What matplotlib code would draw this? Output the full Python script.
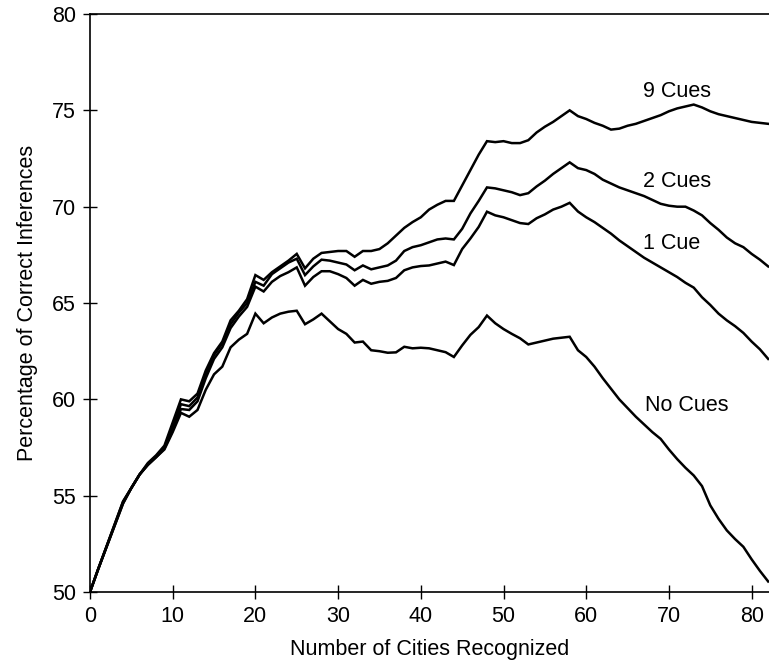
import matplotlib
matplotlib.use("Agg")
import matplotlib.pyplot as plt

plt.rcParams["font.family"] = ["Liberation Sans", "DejaVu Sans"]

# number of cities recognized (vertices)
cities = [0, 1, 4, 5, 6, 7, 8, 9, 10, 11, 12, 13, 14, 15, 16, 17, 18, 19, 20,
          21, 22, 23, 24, 25, 26, 27, 28, 29, 30, 31, 32, 33, 34, 35, 36, 37, 38, 39, 40,
          41, 42, 43, 44, 45, 46, 47, 48, 49, 50, 51, 52, 53, 54, 55, 56, 57, 58, 59, 60,
          61, 62, 63, 64, 65, 66, 67, 68, 69, 70, 71, 72, 73, 74, 75, 76, 77, 78, 79, 80,
          81, 82]

cues_9 = [50.0, 51.2, 54.7, 55.4, 56.1, 56.7, 57.1, 57.6, 58.8, 60.0, 59.9, 60.3, 61.5, 62.4, 63.0, 64.1, 64.6, 65.2, 66.45,
          66.2, 66.6, 66.9, 67.2, 67.55, 66.8, 67.3, 67.6, 67.65, 67.7, 67.7, 67.4, 67.7, 67.7, 67.8, 68.1, 68.5, 68.9, 69.2, 69.45,
          69.85, 70.1, 70.3, 70.3, 71.1, 71.9, 72.7, 73.4, 73.35, 73.4, 73.3, 73.3, 73.45, 73.85, 74.15, 74.4, 74.7, 75.0, 74.7, 74.55,
          74.35, 74.2, 74.0, 74.05, 74.2, 74.3, 74.45, 74.6, 74.75, 74.95, 75.1, 75.2, 75.3, 75.15, 74.95, 74.8, 74.7, 74.6, 74.5, 74.4,
          74.35, 74.3]

cues_2 = [50.0, 51.2, 54.7, 55.4, 56.1, 56.65, 57.05, 57.5, 58.6, 59.75, 59.65, 60.1, 61.3, 62.3, 62.9, 63.9, 64.5, 65.0, 66.1,
          65.9, 66.5, 66.8, 67.1, 67.3, 66.45, 66.9, 67.25, 67.2, 67.1, 67.0, 66.7, 66.95, 66.75, 66.85, 66.95, 67.2, 67.7, 67.9, 68.0,
          68.15, 68.3, 68.35, 68.3, 68.85, 69.65, 70.3, 71.0, 70.95, 70.85, 70.75, 70.6, 70.7, 71.05, 71.35, 71.7, 72.0, 72.3, 72.0, 71.9,
          71.7, 71.4, 71.2, 71.0, 70.85, 70.7, 70.55, 70.35, 70.15, 70.05, 70.0, 70.0, 69.8, 69.55, 69.15, 68.8, 68.4, 68.1, 67.9, 67.55,
          67.25, 66.9]

cue_1 = [50.0, 51.2, 54.6, 55.4, 56.1, 56.6, 57.0, 57.45, 58.4, 59.5, 59.45, 59.9, 61.1, 62.1, 62.7, 63.7, 64.3, 64.8, 65.85,
         65.6, 66.1, 66.4, 66.6, 66.85, 65.9, 66.35, 66.65, 66.65, 66.5, 66.3, 65.9, 66.2, 66.0, 66.1, 66.15, 66.3, 66.7, 66.85, 66.92,
         66.95, 67.05, 67.15, 66.97, 67.8, 68.35, 68.95, 69.74, 69.55, 69.45, 69.3, 69.15, 69.1, 69.4, 69.6, 69.85, 70.0, 70.2, 69.75, 69.45,
         69.2, 68.9, 68.6, 68.25, 67.95, 67.65, 67.35, 67.1, 66.85, 66.6, 66.35, 66.05, 65.8, 65.3, 64.9, 64.45, 64.1, 63.8, 63.45, 63.0,
         62.6, 62.1]

no_cues = [50.0, 51.2, 54.6, 55.4, 56.1, 56.6, 57.0, 57.4, 58.3, 59.3, 59.1, 59.45, 60.5, 61.3, 61.7, 62.7, 63.1, 63.4, 64.45,
           63.95, 64.25, 64.45, 64.55, 64.6, 63.9, 64.15, 64.45, 64.05, 63.65, 63.4, 62.95, 63.0, 62.55, 62.5, 62.42, 62.44, 62.73, 62.65, 62.68,
           62.65, 62.55, 62.45, 62.2, 62.8, 63.35, 63.75, 64.35, 63.95, 63.65, 63.4, 63.17, 62.85, 62.95, 63.05, 63.15, 63.2, 63.25, 62.55, 62.2,
           61.7, 61.1, 60.55, 60.0, 59.55, 59.1, 58.7, 58.3, 57.95, 57.4, 56.9, 56.45, 56.05, 55.5, 54.5, 53.8, 53.2, 52.75, 52.35, 51.7,
           51.1, 50.55]

series = [cues_9, cues_2, cue_1, no_cues]
labels = ["9 Cues", "2 Cues", "1 Cue", "No Cues"]
label_pos = [(71.0, 76.0), (71.0, 71.3), (70.3, 68.1), (72.1, 59.7)]

x_ticks = [0, 10, 20, 30, 40, 50, 60, 70, 80]
y_ticks = [50, 55, 60, 65, 70, 75, 80]


def main():
    fig = plt.figure(figsize=(7.69, 6.66), dpi=100)
    ax = fig.add_axes([0.117, 0.111, 0.883, 0.868])

    for vals in series:
        ax.plot(cities, vals, color="black", linewidth=1.8, solid_joinstyle="miter")

    for text, (lx, ly) in zip(labels, label_pos):
        ax.text(lx, ly, text, fontsize=15.5, ha="center", va="center")

    ax.set_xlim(0, 82.1)
    ax.set_ylim(50, 80)
    ax.set_xticks(x_ticks)
    ax.set_yticks(y_ticks)
    ax.tick_params(direction="inout", length=10, width=1, labelsize=15.5, pad=5)
    ax.spines["right"].set_visible(False)
    for s in ["left", "bottom", "top"]:
        ax.spines[s].set_linewidth(1.2)

    ax.set_xlabel("Number of Cities Recognized", fontsize=15.5, labelpad=9)
    ax.set_ylabel("Percentage of Correct Inferences", fontsize=15.5, labelpad=10)

    fig.savefig("out.png", dpi=100)


if __name__ == "__main__":
    main()
